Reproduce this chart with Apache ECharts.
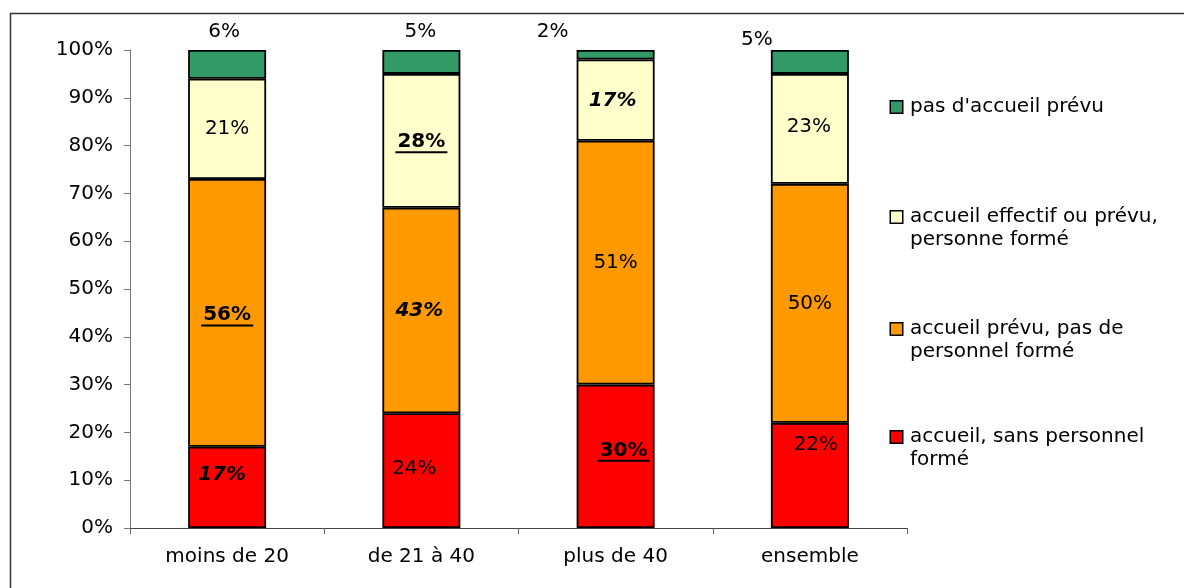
<!DOCTYPE html>
<html>
<head>
<meta charset="utf-8">
<script src="https://cdn.jsdelivr.net/npm/echarts@6/dist/echarts.min.js"></script>
<style>
  html, body { margin: 0; padding: 0; background: #fff; }
  #chart { width: 1184px; height: 588px; }
</style>
</head>
<body>
<div id="chart"></div>
<script>
// Établissements par taille : répartition de l'accueil (en %)
const categories = ['moins de 20', 'de 21 à 40', 'plus de 40', 'ensemble'];

const sansPersonnelForme = [17, 24, 30, 22];
const prevuSansForme     = [56, 43, 51, 50];
const personneForme      = [21, 28, 17, 23];
const pasAccueil         = [6, 5, 2, 5];

const yTicks = [0, 10, 20, 30, 40, 50, 60, 70, 80, 90, 100];

const seriesNames = [
  'accueil, sans personnel formé',
  'accueil prévu, pas de personnel formé',
  'accueil effectif ou prévu, personne formé',
  "pas d'accueil prévu"
];
const legendLines = [
  ['accueil, sans personnel', 'formé'],
  ['accueil prévu, pas de', 'personnel formé'],
  ['accueil effectif ou prévu,', 'personne formé'],
  ["pas d'accueil prévu"]
];

// emphasis of each value label: n = plain, bi = bold italic, bu = bold underlined
const emphasis = [
  ['bi', 'n', 'bu', 'n'],
  ['bu', 'bi', 'n', 'n'],
  ['n', 'bu', 'bi', 'n'],
  ['n', 'n', 'n', 'n']
];

// hand-placed label nudges [dx, dy]
const nudges = [
  [[-5, -13], [-7, -2], [8, -5], [6, -31]],
  [[0, 3], [-2, 0], [0, 0], [0, 0]],
  [[0, 0], [0, 2], [-3, 1], [-1, -2]],
  [[-3, -1], [-1, -1], [-63, -1], [-53, 7]]
];

const colors = ['#FF0000', '#FF9900', '#FFFFCC', '#339966'];
const boxKeys = ['r', 'o', 'y', 'g'];
const FONT = 'DejaVu Sans';
const FS = 20;

const valueSets = [sansPersonnelForme, prevuSansForme, personneForme, pasAccueil];

function labelText(s, i, v) {
  const t = v + '%';
  const e = emphasis[s][i];
  if (e === 'bu') return '{bu|' + t + '}\n{u| }';
  return '{' + e + '|' + t + '}';
}

const labelRich = {
  n:  { fontFamily: FONT, fontSize: FS, color: '#000', lineHeight: 22 },
  bi: { fontFamily: FONT, fontSize: FS, color: '#000', fontWeight: 'bold', fontStyle: 'italic', lineHeight: 22 },
  bu: { fontFamily: FONT, fontSize: FS, color: '#000', fontWeight: 'bold', lineHeight: 19 },
  u:  { width: 52, height: 2, lineHeight: 2, fontSize: 1, backgroundColor: '#000' }
};

const series = valueSets.map((vals, s) => ({
  name: seriesNames[s],
  type: 'bar',
  stack: 'total',
  barWidth: 78,
  itemStyle: { color: colors[s], borderColor: '#000', borderWidth: 1.8 },
  label: {
    show: true,
    position: s === 3 ? 'top' : 'inside',
    distance: 6,
    rich: labelRich
  },
  data: vals.map((v, i) => ({
    value: v,
    label: {
      offset: nudges[s][i],
      formatter: labelText(s, i, v)
    }
  }))
}));

// legend entries, top to bottom
const legendOrder = [3, 2, 1, 0];
const legendTops = [92, 202, 314, 422];
const legendRich = {
  t: { fontFamily: FONT, fontSize: FS, color: '#000', lineHeight: 23, padding: [0, 0, 0, 8] },
  sp: { width: 11, height: 11 }
};
boxKeys.forEach((k, s) => {
  legendRich[k] = { width: 11, height: 11, backgroundColor: colors[s], borderColor: '#000', borderWidth: 1.5 };
});

const legends = legendOrder.map((s, j) => ({
  orient: 'vertical',
  left: 881,
  top: legendTops[j],
  icon: 'none',
  itemWidth: 0,
  itemHeight: 12,
  selectedMode: false,
  data: [seriesNames[s]],
  textStyle: { rich: legendRich },
  formatter: () => {
    const lines = legendLines[s];
    return lines.map((ln, k) => (k === 0 ? '{' + boxKeys[s] + '| }' : '{sp| }') + '{t|' + ln + '}').join('\n');
  }
}));

const chart = echarts.init(document.getElementById('chart'), null, { renderer: 'canvas' });
chart.setOption({
  backgroundColor: '#fff',
  animation: false,
  textStyle: { fontFamily: FONT },
  graphic: [{
    type: 'rect',
    shape: { x: 10.5, y: 13.5, width: 1400, height: 900 },
    style: { fill: null, stroke: '#333', lineWidth: 1.5 },
    silent: true
  }],
  grid: { left: 130, right: 277, top: 50, bottom: 60, containLabel: false },
  legend: legends,
  xAxis: {
    type: 'category',
    data: categories,
    axisLine: { lineStyle: { color: '#444', width: 1 } },
    axisTick: { show: true, length: 6, lineStyle: { color: '#666' } },
    axisLabel: { fontFamily: FONT, fontSize: FS, color: '#000', margin: 19 }
  },
  yAxis: {
    type: 'value',
    min: yTicks[0],
    max: yTicks[yTicks.length - 1],
    interval: yTicks[1] - yTicks[0],
    axisLine: { show: true, lineStyle: { color: '#777', width: 1 } },
    axisTick: { show: true, length: 6, lineStyle: { color: '#777' } },
    splitLine: { show: false },
    axisLabel: { fontFamily: FONT, fontSize: FS, color: '#000', margin: 17, formatter: '{value}%' }
  },
  series: series
});
</script>
</body>
</html>
